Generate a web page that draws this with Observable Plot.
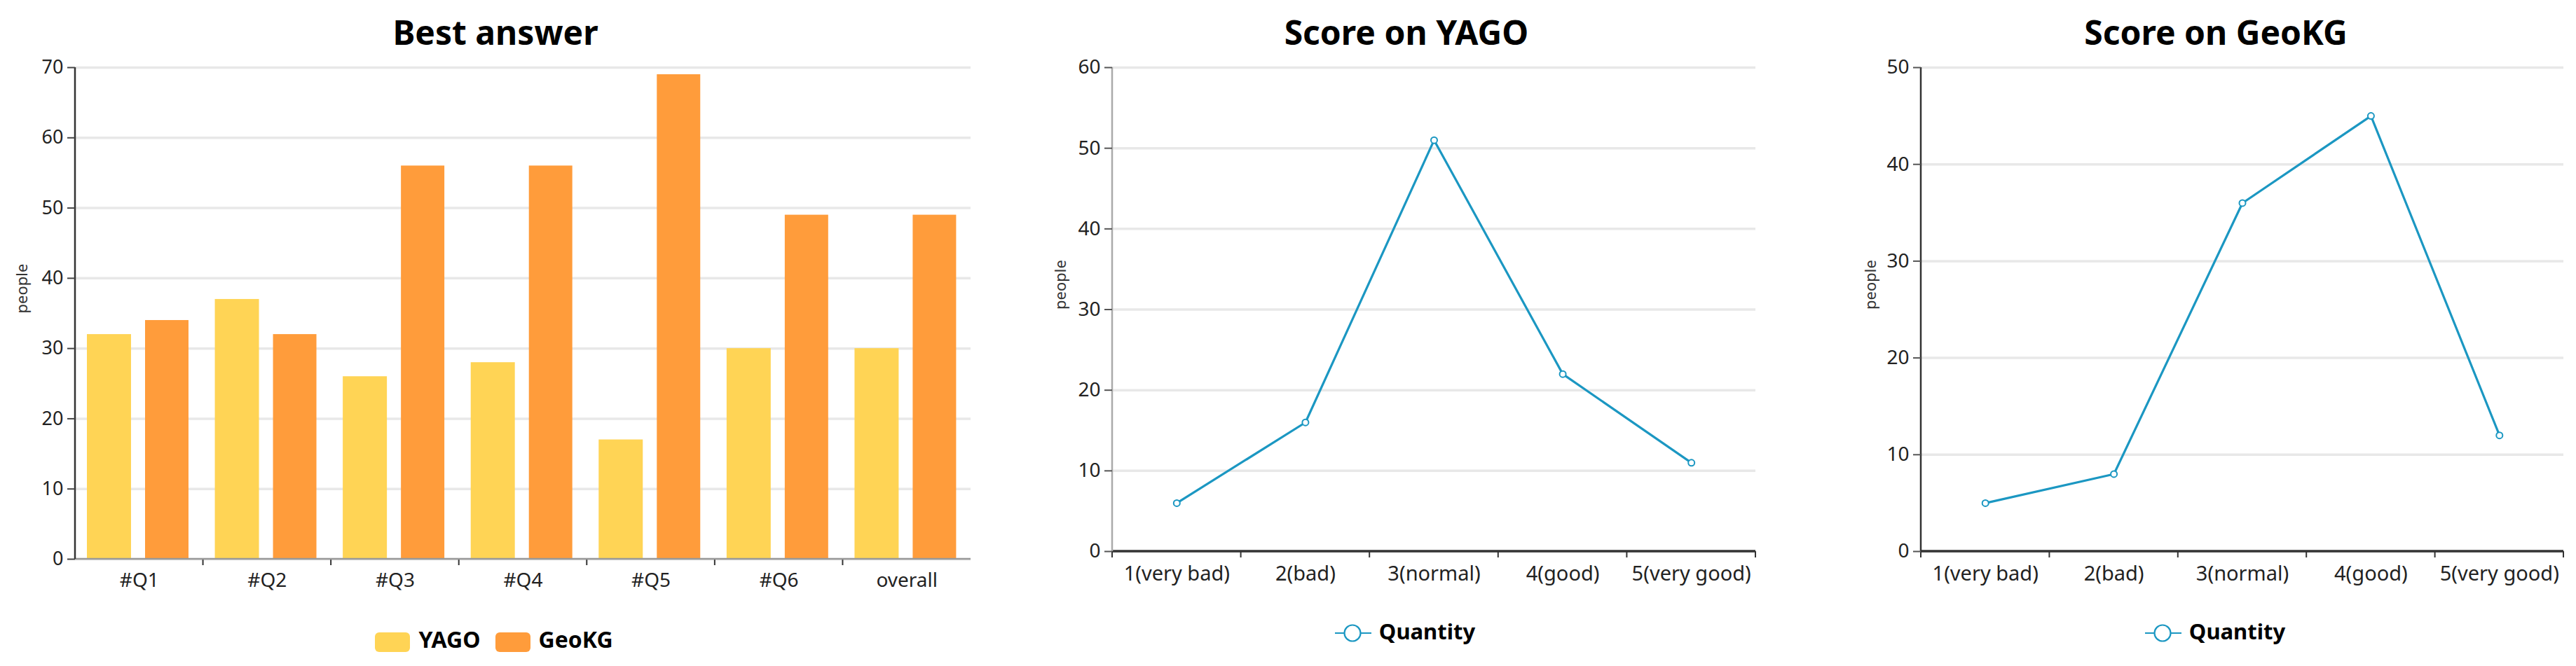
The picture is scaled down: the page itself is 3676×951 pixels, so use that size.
<!DOCTYPE html>
<html><head><meta charset="utf-8">
<script src="https://cdn.jsdelivr.net/npm/d3@7"></script>
<script src="https://cdn.jsdelivr.net/npm/@observablehq/plot@0.6"></script>
<style>
html,body{margin:0;padding:0;background:#fff;}
#root{position:relative;width:3676px;height:951px;overflow:hidden;font-family:"Noto Sans",sans-serif;background:#fff;}
.panel{position:absolute;top:0;height:951px;}
.panel svg{max-width:none !important;}
.title{position:absolute;top:22px;width:1000px;text-align:center;font-weight:700;font-size:48px;line-height:48px;color:#000;white-space:nowrap;}
.legend{position:absolute;width:1000px;display:flex;justify-content:center;align-items:flex-start;font-weight:700;color:#000;white-space:nowrap;}
</style></head><body><div id="root"></div>
<script>
// ---- data ----
const questions = ["#Q1","#Q2","#Q3","#Q4","#Q5","#Q6","overall"];
const series = ["YAGO","GeoKG"];
const yagoBest = [32,37,26,28,17,30,30];
const geokgBest = [34,32,56,56,69,49,49];
const scoreLabels = ["1(very bad)","2(bad)","3(normal)","4(good)","5(very good)"];
const yagoScores = [6,16,51,22,11];
const geokgScores = [5,8,36,45,12];
const bestTicks = [0,10,20,30,40,50,60,70];
const yagoTicks = [0,10,20,30,40,50,60];
const geokgTicks = [0,10,20,30,40,50];
const titles = ["Best answer","Score on YAGO","Score on GeoKG"];
const yLabel = "people";
const lineLegend = "Quantity";
const barColors = ["#ffd455","#ff9c3b"];
const lineColor = "#1b97c2";

const root = document.getElementById("root");

// custom axis frame: y-axis line, baseline, band-boundary ticks (from Plot's scales)
function bandFrame({yLine="#333", yLineW=2.5, base="#333", baseW=3, tick="#333", tickW=2, tickLen=9, edges=true}) {
  return (index, {x, y}) => {
    const g = d3.create("svg:g");
    const [x0, x1] = x.range();
    const [yb, yt] = y.range();
    const bounds = x.domain().map(d => x(d)).concat([x1]);
    const used = edges ? bounds : bounds.slice(1, -1);
    for (const bx of used) {
      g.append("line").attr("x1", bx).attr("x2", bx).attr("y1", yb).attr("y2", yb + tickLen)
        .attr("stroke", tick).attr("stroke-width", tickW);
    }
    g.append("line").attr("x1", x0).attr("x2", x1).attr("y1", yb).attr("y2", yb)
      .attr("stroke", base).attr("stroke-width", baseW);
    g.append("line").attr("x1", x0).attr("x2", x0).attr("y1", yt).attr("y2", yb)
      .attr("stroke", yLine).attr("stroke-width", yLineW);
    return g.node();
  };
}

function addPanel(left, width, svg) {
  const d = document.createElement("div");
  d.className = "panel";
  d.style.left = left + "px";
  d.style.width = width + "px";
  d.appendChild(svg);
  root.appendChild(d);
}
function addTitle(text, center) {
  const t = document.createElement("div");
  t.className = "title";
  t.style.left = (center - 500) + "px";
  t.textContent = text;
  root.appendChild(t);
}

const baseStyle = {fontFamily: "Noto Sans", fontSize: "27px", color: "#222", background: "transparent", overflow: "visible", maxWidth: "none"};

// ---- chart 1: grouped bars ----
const bestRows = questions.map((q, i) => ({q, YAGO: yagoBest[i], GeoKG: geokgBest[i]}));
const chart1 = Plot.plot({
  width: 1414, height: 951,
  marginLeft: 107, marginRight: 29, marginTop: 96, marginBottom: 153,
  style: baseStyle,
  x: {type: "band", domain: questions, padding: 0, round: false},
  y: {domain: [0, 70]},
  marks: [
    Plot.gridY(bestTicks, {stroke: "#e8e8e8", strokeOpacity: 1, strokeWidth: 3.5}),
    Plot.barY(bestRows, {x: "q", y: series[0], fill: barColors[0], insetLeft: 17, insetRight: 102.6}),
    Plot.barY(bestRows, {x: "q", y: series[1], fill: barColors[1], insetLeft: 100, insetRight: 20.6}),
    bandFrame({yLine: "#333", base: "#999", baseW: 2.5, edges: false}),
    Plot.axisY(bestTicks, {tickSize: 11, tickPadding: 6, stroke: "#444", strokeWidth: 2, fill: "#222", label: null, fontSize: 27}),
    Plot.axisX({tickSize: 0, tickPadding: 20, label: null, fill: "#222", fontSize: 28}),
    Plot.text([yLabel], {frameAnchor: "left", text: d => d, rotate: -90, dx: -76, fontSize: 22, fill: "#333"})
  ]
});
addPanel(0, 1414, chart1);
addTitle(titles[0], 707);
{
  const lg = document.createElement("div");
  lg.className = "legend";
  lg.style.left = (705 - 500) + "px";
  lg.style.top = "897px";
  lg.style.fontSize = "32px";
  lg.style.lineHeight = "32px";
  series.forEach((s, i) => {
    const item = document.createElement("div");
    item.style.display = "flex";
    item.style.alignItems = "flex-start";
    item.style.marginRight = i === 0 ? "21px" : "0";
    const sw = document.createElement("div");
    sw.style.cssText = `width:50px;height:28px;border-radius:6px;background:${barColors[i]};margin-top:6px;margin-right:12px;`;
    const tx = document.createElement("span");
    tx.textContent = s;
    item.appendChild(sw); item.appendChild(tx);
    lg.appendChild(item);
  });
  root.appendChild(lg);
}

// ---- line charts ----
function lineChart({values, ticks, width, ml, mr, labelDx, yLineColor}) {
  const rows = scoreLabels.map((s, i) => ({s, v: values[i]}));
  return Plot.plot({
    width, height: 951,
    marginLeft: ml, marginRight: mr, marginTop: 96, marginBottom: 164,
    style: baseStyle,
    x: {type: "band", domain: scoreLabels, padding: 0, round: false},
    y: {domain: [0, ticks[ticks.length - 1]]},
    marks: [
      Plot.gridY(ticks, {stroke: "#e8e8e8", strokeOpacity: 1, strokeWidth: 3.5}),
      bandFrame({yLine: yLineColor, yLineW: 2.5, base: "#333", baseW: 3.5, edges: true}),
      Plot.line(rows, {x: "s", y: "v", stroke: lineColor, strokeWidth: 3.2}),
      Plot.dot(rows, {x: "s", y: "v", r: 4.5, fill: "white", stroke: lineColor, strokeWidth: 2}),
      Plot.axisY(ticks, {tickSize: 11, tickPadding: 6, stroke: "#555", strokeWidth: 2, fill: "#222", label: null, fontSize: 28}),
      Plot.axisX({tickSize: 0, tickPadding: 21, label: null, fill: "#222", fontSize: 29}),
      Plot.text([yLabel], {frameAnchor: "left", text: d => d, rotate: -90, dx: labelDx, fontSize: 22, fill: "#333"})
    ]
  });
}
function lineLegendAt(center) {
  const lg = document.createElement("div");
  lg.className = "legend";
  lg.style.left = (center - 500) + "px";
  lg.style.top = "886px";
  lg.style.fontSize = "31px";
  lg.style.lineHeight = "31px";
  const sym = document.createElementNS("http://www.w3.org/2000/svg", "svg");
  sym.setAttribute("width", "52"); sym.setAttribute("height", "28");
  sym.style.marginTop = "4px"; sym.style.marginRight = "11px";
  sym.innerHTML = `<line x1="0" x2="52" y1="14" y2="14" stroke="${lineColor}" stroke-width="2.2"/>` +
    `<circle cx="25" cy="14" r="11.5" fill="white" stroke="${lineColor}" stroke-width="2.2"/>`;
  const tx = document.createElement("span");
  tx.textContent = lineLegend;
  lg.appendChild(sym); lg.appendChild(tx);
  root.appendChild(lg);
}

addPanel(1440, 1095, lineChart({values: yagoScores, ticks: yagoTicks, width: 1095, ml: 147, mr: 30, labelDx: -74, yLineColor: "#aaa"}));
addTitle(titles[1], 2007);
lineLegendAt(2005);

addPanel(2600, 1076, lineChart({values: geokgScores, ticks: geokgTicks, width: 1076, ml: 141, mr: 18, labelDx: -72, yLineColor: "#333"}));
addTitle(titles[2], 3162);
lineLegendAt(3161);
</script></body></html>
